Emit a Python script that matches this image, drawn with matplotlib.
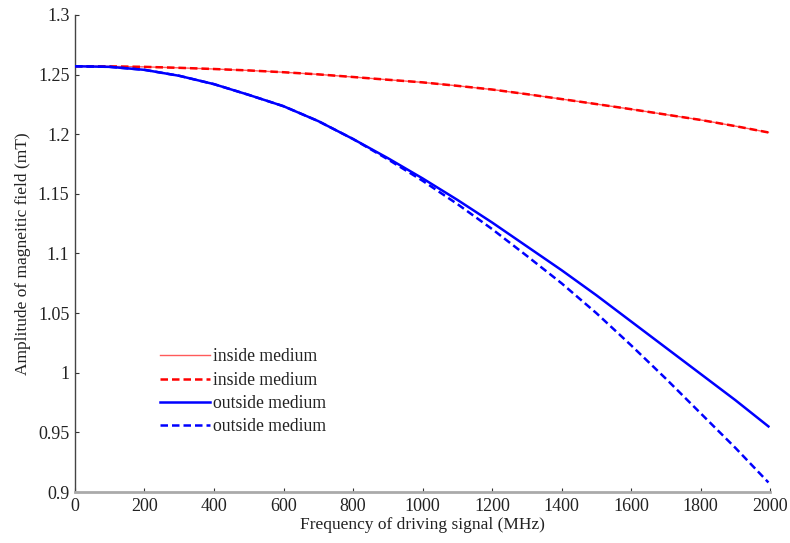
import matplotlib
matplotlib.use("Agg")
import matplotlib.pyplot as plt
from matplotlib.ticker import FuncFormatter

plt.rcParams['font.family'] = ['Liberation Serif', 'DejaVu Serif']

freq = [0, 100, 200, 300, 400, 500, 600, 700, 800, 900, 1000, 1100, 1200,
        1300, 1400, 1500, 1600, 1700, 1800, 1900, 1995]
inside_thin = [1.257, 1.2569, 1.2565, 1.2557, 1.2547, 1.2535, 1.252, 1.2502,
               1.248, 1.2457, 1.2435, 1.2406, 1.2375, 1.2336, 1.2295, 1.2253,
               1.221, 1.2165, 1.212, 1.2068, 1.2015]
inside_dashed = [1.257, 1.2569, 1.2565, 1.2557, 1.2547, 1.2535, 1.252, 1.2502,
                 1.248, 1.2457, 1.2435, 1.2406, 1.2375, 1.2336, 1.2295, 1.2253,
                 1.221, 1.2165, 1.212, 1.2068, 1.2015]
outside_solid = [1.257, 1.2565, 1.254, 1.249, 1.242, 1.233, 1.2235, 1.211,
                 1.196, 1.180, 1.163, 1.145, 1.126, 1.106, 1.086, 1.065,
                 1.043, 1.021, 0.999, 0.977, 0.955]
outside_dashed = [1.257, 1.2565, 1.254, 1.249, 1.242, 1.233, 1.2235, 1.211,
                  1.196, 1.179, 1.161, 1.1415, 1.1205, 1.098, 1.075, 1.050,
                  1.023, 0.995, 0.966, 0.937, 0.908]

xticks = [0, 200, 400, 600, 800, 1000, 1200, 1400, 1600, 1800, 2000]
yticks = [0.9, 0.95, 1.0, 1.05, 1.1, 1.15, 1.2, 1.25, 1.3]

fig = plt.figure(figsize=(7.9, 5.43), dpi=100)
ax = fig.add_axes([0.0949, 0.0939, 0.88, 0.8785])

ax.plot(freq, inside_thin, color='#ff5a5a', lw=1.0, label='inside medium', zorder=2)
ax.plot(freq, inside_dashed, color='#ff0000', lw=1.8, dashes=(3, 1.6),
        label='inside medium', zorder=3)
ax.plot(freq, outside_solid, color='#0000ff', lw=1.8, label='outside medium', zorder=3)
ax.plot(freq, outside_dashed, color='#0000ff', lw=1.8, dashes=(3, 1.6),
        label='outside medium', zorder=3)

ax.set_xlim(0, 2000)
ax.set_ylim(0.9, 1.3)
ax.set_xticks(xticks)
ax.set_yticks(yticks)
ax.yaxis.set_major_formatter(FuncFormatter(lambda v, p: f"{v:g}"))
ax.tick_params(direction='in', length=3, width=0.8, labelsize=13, colors='#333333',
               labelcolor='#222222', pad=4)

for s in ['top', 'right']:
    ax.spines[s].set_visible(False)
ax.spines['left'].set_color('#444444')
ax.spines['left'].set_linewidth(1.0)
ax.spines['bottom'].set_color('#aaaaaa')
ax.spines['bottom'].set_linewidth(2.0)

ax.set_xlabel('Frequency of driving signal (MHz)', fontsize=12.5, color='#222222', labelpad=2)
ax.set_ylabel('Amplitude of magneitic field (mT)', fontsize=12.5, color='#222222', labelpad=5)

leg = ax.legend(loc='upper left', bbox_to_anchor=(0.105, 0.327), frameon=False,
                fontsize=12.7, handlelength=2.8, handletextpad=0.2, labelspacing=0.36,
                borderpad=0.2)
for t in leg.get_texts():
    t.set_color('#222222')

fig.savefig('out.png', dpi=100)
